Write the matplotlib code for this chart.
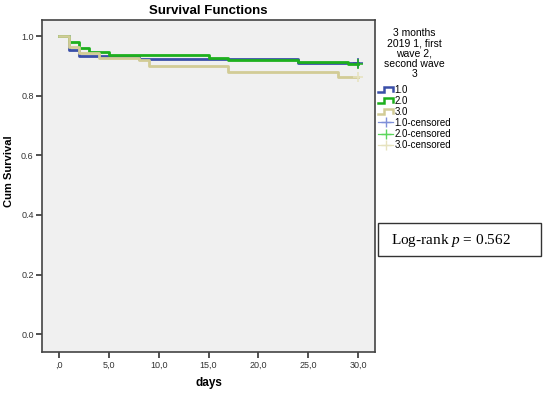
import matplotlib
matplotlib.use("Agg")
import matplotlib.pyplot as plt
from matplotlib.lines import Line2D
from matplotlib.patches import Rectangle
from matplotlib.legend_handler import HandlerBase

plt.rcParams['font.family'] = ['Liberation Sans', 'DejaVu Sans']
plt.rcParams['mathtext.fontset'] = 'custom'
plt.rcParams['mathtext.rm'] = 'Liberation Serif'
plt.rcParams['mathtext.it'] = 'Liberation Serif:italic'

# survival step data (days, cum survival)
days_1 = [0, 1, 2, 8, 24, 30]
surv_1 = [1.0, 0.955, 0.932, 0.922, 0.911, 0.911]
days_2 = [0, 1, 2, 3, 5, 15, 17, 24, 29, 30]
surv_2 = [1.0, 0.979, 0.959, 0.947, 0.938, 0.928, 0.919, 0.912, 0.908, 0.908]
days_3 = [0, 1, 2, 4, 8, 9, 17, 28, 30]
surv_3 = [1.0, 0.962, 0.942, 0.925, 0.919, 0.899, 0.878, 0.863, 0.863]

# censored points at end of follow up
cens_days = [30, 30, 30]
cens_surv = [0.911, 0.908, 0.863]

group_labels = ['1.0', '2.0', '3.0']
xticks = [0, 5, 10, 15, 20, 25, 30]
xtick_labels = [',0', '5,0', '10,0', '15,0', '20,0', '25,0', '30,0']
yticks = [0.0, 0.2, 0.4, 0.6, 0.8, 1.0]
ytick_labels = ['0.0', '0.2', '0.4', '0.6', '0.8', '1.0']

line_cols = ['#3A4FA8', '#1DB01D', '#D2CC96']
cens_cols = ['#7F90D8', '#5CD65C', '#E6E2BE']


class StepHandler(HandlerBase):
    # draws the little SPSS step symbol in the legend
    def create_artists(self, legend, orig_handle, xdescent, ydescent,
                       width, height, fontsize, trans):
        x0 = -xdescent
        y0 = -ydescent
        xs = [x0, x0 + 0.38 * width, x0 + 0.38 * width, x0 + width, x0 + width]
        ys = [y0 + 0.15 * height, y0 + 0.15 * height, y0 + 0.85 * height,
              y0 + 0.85 * height, y0 + 0.3 * height]
        ln = Line2D(xs, ys, color=orig_handle.get_color(), lw=1.8,
                    solid_joinstyle='miter', transform=trans)
        return [ln]


fig = plt.figure(figsize=(5.5, 3.94), dpi=100)
ax = fig.add_axes([42/550, 1-352/394, 333/550, 332/394])
ax.set_facecolor('#F0F0F0')

order = [1, 0, 2]
all_days = [days_1, days_2, days_3]
all_surv = [surv_1, surv_2, surv_3]
handles = {}
for i in order:
    h, = ax.step(all_days[i], all_surv[i], where='post', color=line_cols[i],
                 lw=2.0, zorder=3 + i)
    handles[i] = h

cens_handles = []
for i in range(3):
    h, = ax.plot([cens_days[i]], [cens_surv[i]], marker='+', ms=7, mew=1.1,
                 ls='-', lw=0.9, color=cens_cols[i] if i == 2 else line_cols[i],
                 zorder=6)
    cens_handles.append(Line2D([], [], color=cens_cols[i], marker='+', ms=7,
                               mew=1.0, lw=0.9))

ax.set_xlim(-1.7, 31.7)
ax.set_ylim(-0.06, 1.054)
ax.set_xticks(xticks)
ax.set_xticklabels(xtick_labels)
ax.set_yticks(yticks)
ax.set_yticklabels(ytick_labels)
ax.tick_params(axis='both', direction='out', length=4, width=1.2,
               labelsize=6.5, colors='#333333', pad=2)
for sp in ax.spines.values():
    sp.set_color('#444444')
    sp.set_linewidth(1.2)

ax.set_xlabel('days', fontsize=8.5, fontweight='bold')
ax.set_ylabel('Cum Survival', fontsize=8, fontweight='bold')
ax.xaxis.set_label_coords(0.5, -0.075)
ax.yaxis.set_label_coords(-0.084, 0.545)
ax.set_title('Survival Functions', fontsize=9.5, fontweight='bold', pad=4)

leg_handles = [handles[0], handles[1], handles[2]] + cens_handles
leg_labels = group_labels + [g + '-censored' for g in group_labels]
leg = ax.legend(leg_handles, leg_labels,
                handler_map={h: StepHandler() for h in handles.values()},
                loc='upper left', bbox_to_anchor=(371/550, 1-21/394),
                bbox_transform=fig.transFigure, frameon=False,
                title='3 months\n2019 1, first\nwave 2,\nsecond wave\n3',
                fontsize=7, title_fontsize=7.5, handlelength=1.6,
                handletextpad=0.1, labelspacing=0.11, borderpad=0.2)
leg.get_title().set_linespacing(1.05)
leg.get_title().set_multialignment('center')
leg._legend_box.sep = 3.8  # a bit more room between title and entries

# log-rank box
fig.add_artist(Rectangle((378/550, 1-256/394), 163/550, 33/394,
                         transform=fig.transFigure, fill=False,
                         edgecolor='#333333', lw=1.0))
fig.text(391/550, 1-240/394, 'Log-rank $p$ = 0.562', fontsize=11,
         family='Liberation Serif', va='center', ha='left')

fig.savefig('out.png', dpi=100)
